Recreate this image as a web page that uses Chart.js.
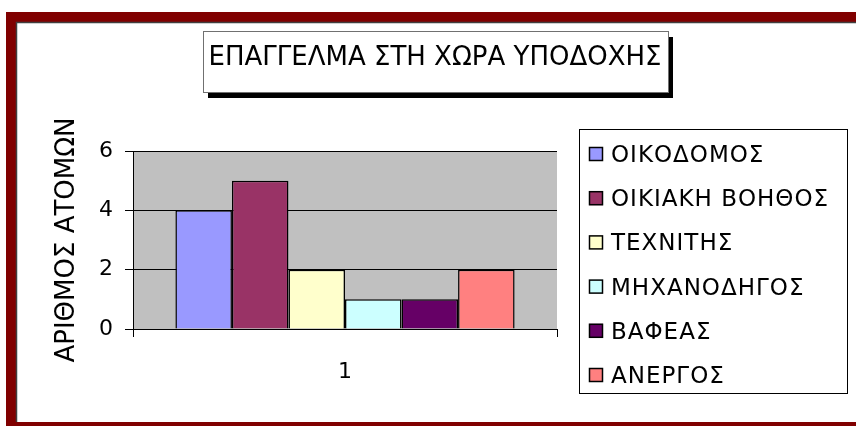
<!DOCTYPE html>
<html>
<head>
<meta charset="utf-8">
<script src="https://cdn.jsdelivr.net/npm/chart.js@4.4.0/dist/chart.umd.min.js"></script>
<style>
    body { margin: 0; background: #fff; }
</style>
</head>
<body>
<canvas id="canvasJobs" width="856" height="426"></canvas>
<script>
const categories = ["1"]
const seriesNames = ["ΟΙΚΟΔΟΜΟΣ", "ΟΙΚΙΑΚΗ ΒΟΗΘΟΣ", "ΤΕΧΝΙΤΗΣ", "ΜΗΧΑΝΟΔΗΓΟΣ", "ΒΑΦΕΑΣ", "ΑΝΕΡΓΟΣ"]
const seriesValues = [4, 5, 2, 1, 1, 2]
const seriesColors = ["#9999FF", "#993366", "#FFFFCC", "#CCFFFF", "#660066", "#FF8080"]
const yTicks = [0, 2, 4, 6]
const chartTitle = "ΕΠΑΓΓΕΛΜΑ ΣΤΗ ΧΩΡΑ ΥΠΟΔΟΧΗΣ"
const yTitle = "ΑΡΙΘΜΟΣ ΑΤΟΜΩΝ"

const fontFamily = "'DejaVu Sans', sans-serif"

//#region Plugins
// dark red frame + grey plot area, drawn under the grid
const framePlugin = {
    id: "frame",
    beforeDraw: chart => {
        const ctx = chart.ctx
        const { left, top, right, bottom } = chart.chartArea
        ctx.save()
        ctx.fillStyle = "#fff"
        ctx.fillRect(0, 0, chart.width, chart.height)
        ctx.fillStyle = "#800000"
        ctx.fillRect(6, 12, chart.width - 6, chart.height - 12)
        ctx.fillStyle = "#fff"
        ctx.fillRect(16, 22, chart.width - 16, 400)
        ctx.strokeStyle = "#404040"
        ctx.lineWidth = 1.5
        ctx.beginPath()
        ctx.moveTo(16.5, chart.height - 4)
        ctx.lineTo(16.5, 22.5)
        ctx.lineTo(chart.width, 22.5)
        ctx.stroke()
        ctx.fillStyle = "#C0C0C0"
        ctx.fillRect(left, top, right - left, bottom - top)
        ctx.restore()
    }
}

// boxed title with shadow and a boxed legend on the right
const boxesPlugin = {
    id: "boxes",
    afterDraw: chart => {
        const ctx = chart.ctx
        ctx.save()

        // title
        ctx.fillStyle = "#000"
        ctx.fillRect(208, 37, 465, 61)
        ctx.fillStyle = "#fff"
        ctx.fillRect(203, 31, 465, 61)
        ctx.strokeStyle = "#707070"
        ctx.lineWidth = 1
        ctx.strokeRect(203.5, 31.5, 465, 61)
        ctx.fillStyle = "#000"
        ctx.font = `26px ${fontFamily}`
        ctx.textAlign = "center"
        ctx.textBaseline = "alphabetic"
        ctx.fillText(chartTitle, 435, 65)

        // legend
        ctx.fillStyle = "#fff"
        ctx.fillRect(579, 129, 268, 264)
        ctx.strokeStyle = "#000"
        ctx.strokeRect(579.5, 129.5, 268, 264)
        ctx.font = `23px ${fontFamily}`
        ctx.textAlign = "left"
        if ("letterSpacing" in ctx) ctx.letterSpacing = "1px"
        chart.data.datasets.forEach((dataset, i) => {
            const cy = 154 + i * 44.2
            ctx.fillStyle = dataset.backgroundColor
            ctx.fillRect(589, cy - 7, 14, 14)
            ctx.strokeStyle = "#000"
            ctx.lineWidth = 1.5
            ctx.strokeRect(589.5, cy - 6.5, 13, 13)
            ctx.fillStyle = "#000"
            ctx.fillText(dataset.label, 611, cy + 8)
        })
        ctx.restore()
    }
}
//#endregion

//#region ChartJs
CreateChart = (canvasId, labels, names, values, colors) => {
    new Chart(canvasId, {
        type: "bar",
        data: {
            labels,
            datasets: names.map((name, i) => ({
                label: name,
                data: [values[i]],
                backgroundColor: colors[i],
                borderColor: "#000",
                borderWidth: 1.5,
                categoryPercentage: 0.8,
                barPercentage: 1.0
            }))
        },
        options: {
            responsive: false,
            animation: false,
            layout: { padding: { left: 0, right: 299, top: 151, bottom: 37 } },
            plugins: {
                legend: { display: false },
                title: { display: false },
                tooltip: { enabled: false }
            },
            scales: {
                x: {
                    offset: true,
                    grid: {
                        display: true,
                        offset: true,
                        drawOnChartArea: false,
                        drawTicks: true,
                        tickLength: 8,
                        color: "#000"
                    },
                    border: { display: true, color: "#000", width: 1 },
                    ticks: {
                        color: "#000",
                        font: { family: fontFamily, size: 22 },
                        padding: 22
                    },
                    afterFit: scale => { scale.height = 60 }
                },
                y: {
                    min: yTicks[0],
                    max: yTicks[yTicks.length - 1],
                    grid: {
                        color: "#000",
                        lineWidth: 1,
                        drawTicks: true,
                        tickLength: 8
                    },
                    border: { display: true, color: "#000", width: 1 },
                    ticks: {
                        stepSize: yTicks[1] - yTicks[0],
                        color: "#000",
                        font: { family: fontFamily, size: 22 },
                        padding: 12
                    },
                    title: {
                        display: true,
                        text: yTitle,
                        color: "#000",
                        font: { family: fontFamily, size: 26 },
                        padding: { top: 52, bottom: 0 }
                    },
                    afterFit: scale => { scale.width = 133 }
                }
            }
        },
        plugins: [framePlugin, boxesPlugin]
    })
}
//#endregion

CreateChart(document.getElementById("canvasJobs"), categories, seriesNames, seriesValues, seriesColors)
</script>
</body>
</html>
